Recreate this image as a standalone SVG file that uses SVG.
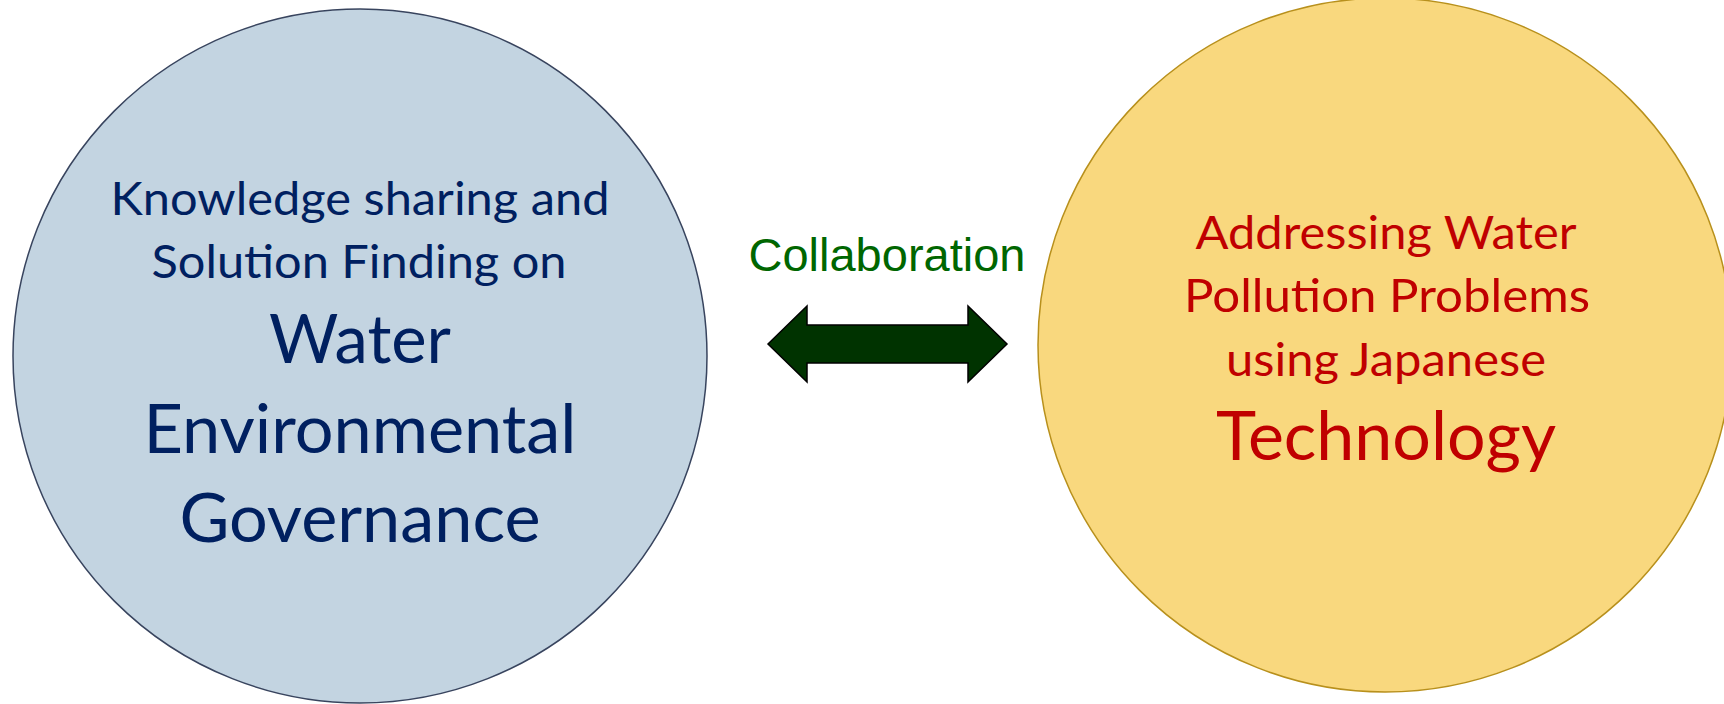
<svg xmlns="http://www.w3.org/2000/svg" width="1724" height="704" viewBox="0 0 1724 704">
<style>
.t{font-family:Lato,"Open Sans","Liberation Sans",sans-serif;text-anchor:middle}
.s{font-size:47px}
.b{font-size:67px}
.navy{fill:#002060}
.red{fill:#c00000}
</style>
<rect width="1724" height="704" fill="#ffffff"/>
<g id="node-governance">
<circle cx="360" cy="356" r="347" fill="#c3d4e1" stroke="#38445e" stroke-width="1.5"/>
<text class="t s navy" x="360" y="215" textLength="499" lengthAdjust="spacingAndGlyphs">Knowledge sharing and</text>
<text class="t s navy" x="359" y="278" textLength="415" lengthAdjust="spacingAndGlyphs">Solution Finding on</text>
<text class="t b navy" x="360" y="363" textLength="182" lengthAdjust="spacingAndGlyphs">Water</text>
<text class="t b navy" x="360" y="453" textLength="433" lengthAdjust="spacingAndGlyphs">Environmental</text>
<text class="t b navy" x="360" y="542" textLength="361" lengthAdjust="spacingAndGlyphs">Governance</text>
</g>
<g id="node-technology">
<circle cx="1385" cy="345" r="347" fill="#f9d87e" stroke="#b8901c" stroke-width="1.5"/>
<text class="t s red" x="1386" y="249" textLength="381" lengthAdjust="spacingAndGlyphs">Addressing Water</text>
<text class="t s red" x="1387" y="312" textLength="406" lengthAdjust="spacingAndGlyphs">Pollution Problems</text>
<text class="t s red" x="1386" y="376" textLength="320" lengthAdjust="spacingAndGlyphs">using Japanese</text>
<text class="t b red" x="1386" y="460" textLength="340" lengthAdjust="spacingAndGlyphs">Technology</text>
</g>
<g id="connectors">
<polygon points="768,344 807,306 807,325 968,325 968,306 1007,344 968,382 968,363 807,363 807,382" fill="#003300" stroke="#000000" stroke-width="1.5" stroke-linejoin="miter"/>
<text x="887" y="271" font-family="'Liberation Sans',Arial,sans-serif" font-size="47" fill="#006600" text-anchor="middle">Collaboration</text>
</g>
</svg>
